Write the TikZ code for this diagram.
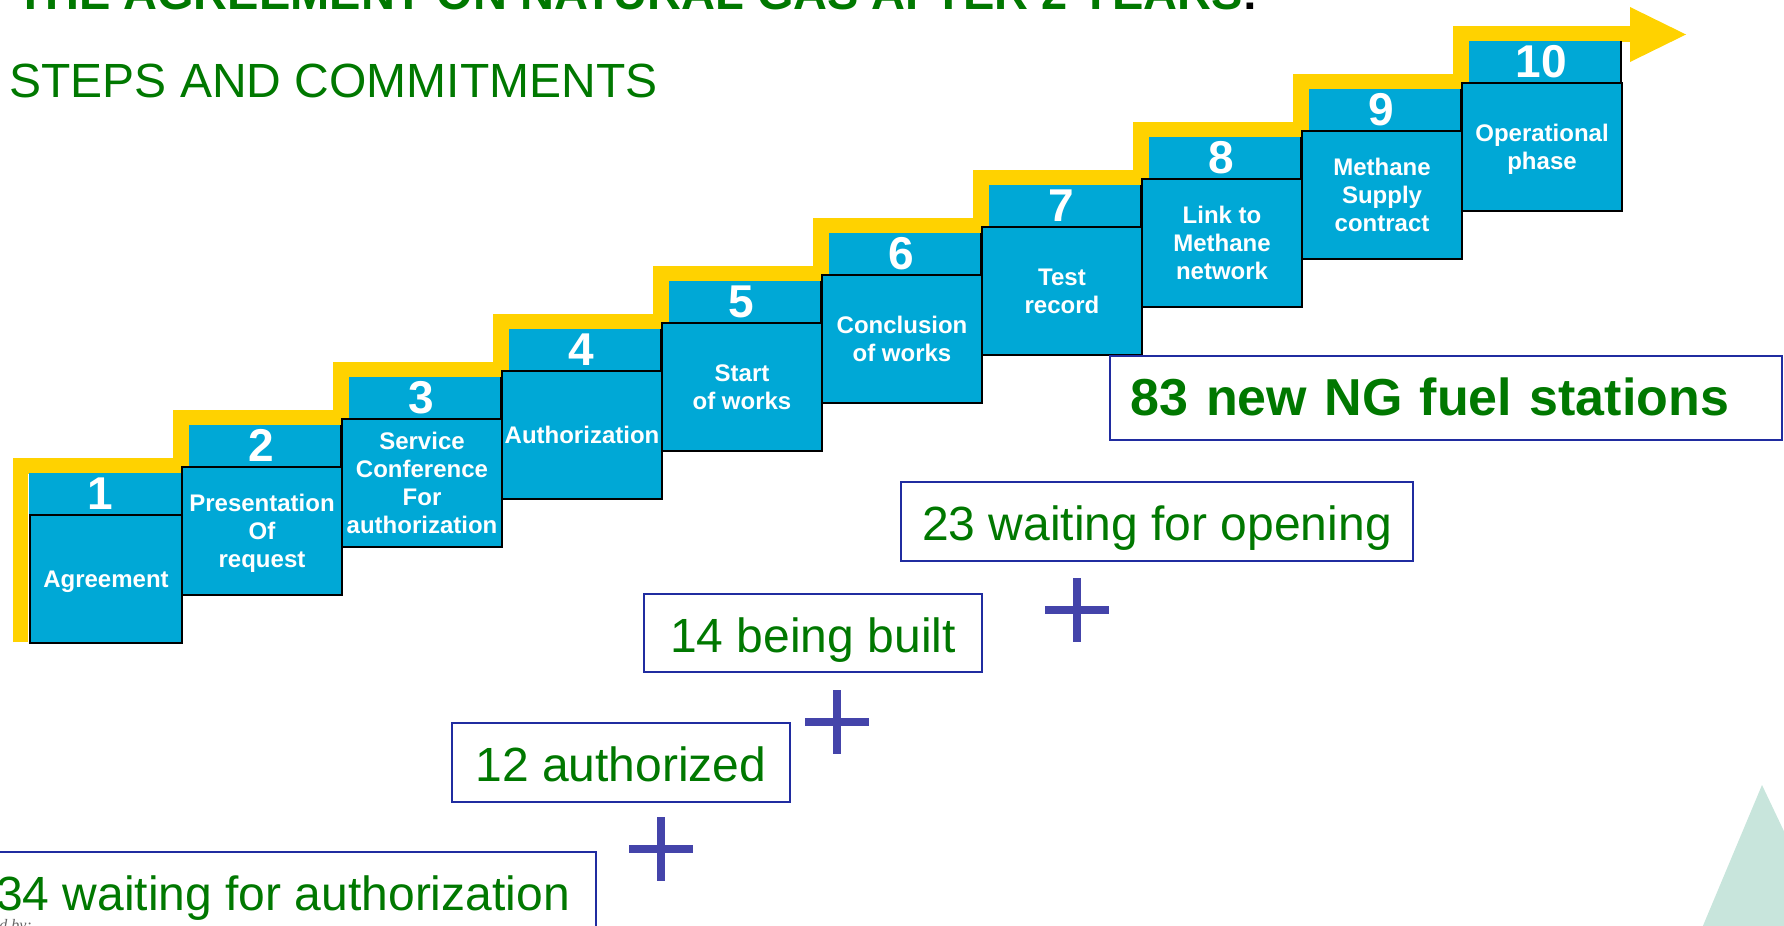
\documentclass[tikz,border=0pt]{standalone}
\usepackage{fontspec}
\setmainfont{Liberation Sans}
\newfontfamily\serifit{Liberation Serif}
\definecolor{stepblue}{RGB}{0,168,214}
\definecolor{stepyellow}{RGB}{255,210,0}
\definecolor{txtgreen}{RGB}{0,120,0}
\definecolor{boxnavy}{RGB}{32,44,160}
\definecolor{plusblue}{RGB}{68,68,170}
\definecolor{mountain}{RGB}{200,229,220}
\begin{document}
\begin{tikzpicture}[x=0.5pt,y=-0.5pt,line join=miter,
  lbl/.style={draw=black,line width=1pt,fill=stepblue,text=white,
    font=\bfseries\fontsize{12}{14}\selectfont,align=center,inner sep=0pt,
    minimum width=80pt,minimum height=64pt,text depth=0pt,anchor=north west},
  num/.style={text=white,font=\bfseries\fontsize{23}{23}\selectfont,inner sep=0pt,anchor=base},
  stripfill/.style={fill=stepblue},
  shadowbox/.style={fill=black!40},
  countbox/.style={draw=boxnavy,line width=0.9pt,fill=white,text=txtgreen,
    font=\fontsize{24}{28}\selectfont,inner sep=0pt,minimum height=39.5pt,
    text height=19pt,text depth=0pt},
  plusmark/.style={draw=plusblue,line width=3.75pt},
  ttl/.style={text=txtgreen,inner sep=0pt,anchor=base west}]
\useasboundingbox (0,0) rectangle (1784,926);
\clip (0,0) rectangle (1784,926);

% background mountain shape
\fill[mountain] (1697,940) -- (1762,785) -- (1800,865) -- (1800,940) -- cycle;

% titles
\node[ttl,font=\bfseries\fontsize{23.5}{28}\selectfont] (title) at (16,10)
  {THE AGREEMENT ON NATURAL GAS AFTER 2 YEARS\textcolor{black}{:}};
\node[ttl,font=\fontsize{24}{28}\selectfont] (subtitle) at (9,97) {STEPS AND COMMITMENTS};

% yellow staircase arrow
\draw[stepyellow,line width=7.75pt] (20.5,642) -- (20.5,466) -- (181,466) -- (181,418)
  -- (341,418) -- (341,370) -- (501,370) -- (501,322) -- (661,322) -- (661,274)
  -- (821,274) -- (821,226) -- (981,226) -- (981,178) -- (1141,178) -- (1141,130)
  -- (1301,130) -- (1301,82) -- (1461,82) -- (1461,34) -- (1632,34);
\fill[stepyellow] (1630,7) -- (1686,34.5) -- (1630,62) -- cycle;

% shadows
\fill[shadowbox] (31,516) rectangle (183,644);
\foreach \L/\T in {181/466,341/418,501/370,661/322,821/274,981/226,1141/178,1301/130,1461/82}
  \fill[shadowbox] (\L+2,\T+2) rectangle (\L+162,\T+130);

% step 1
\fill[stripfill] (29,473) rectangle (181,514);
\node[num] (n1) at (100,509) {1};
\node[lbl,minimum width=76pt] (b1) at (29,514) {Agreement};

% steps 2..10
\foreach \i/\L/\T/\txt in {
  2/181/466/{Presentation\\Of\\request},
  3/341/418/{Service\\Conference\\For\\authorization},
  4/501/370/{Authorization},
  5/661/322/{Start\\of works},
  6/821/274/{Conclusion\\of works},
  7/981/226/{Test\\record},
  8/1141/178/{Link to\\Methane\\network},
  9/1301/130/{Methane\\Supply\\contract},
  10/1461/82/{Operational\\phase}}{
  \fill[stripfill] (\L+8,\T-41) rectangle (\L+160,\T);
  \draw[black,line width=0.6pt] (\L+160,\T-41) -- (\L+160,\T);
  \node[num] (n\i) at (\L+80,\T-5) {\i};
  \node[lbl] (b\i) at (\L,\T) {\txt};
}

% result boxes
\node[countbox,anchor=north west,minimum height=42pt,text width=315pt,inner xsep=10.5pt,
  align=left,text height=18pt,font=\bfseries\fontsize{26}{30}\selectfont] (c83)
  at (1109,355) {83 new NG fuel stations};
\node[countbox,minimum width=256pt] (c23) at (1157,521.5) {23 waiting for opening};
\node[countbox,minimum width=169pt,minimum height=39pt] (c14) at (813,633) {14 being built};
\node[countbox,minimum width=169pt] (c12) at (621,762.5) {12 authorized};
\node[countbox,minimum width=313pt] (c34) at (283,891.5) {34 waiting for authorization};

% plus signs
\foreach \px/\py in {1077/610,837/722,661/849}{
  \draw[plusmark] (\px-32,\py) -- (\px+32,\py);
  \draw[plusmark] (\px,\py-32) -- (\px,\py+32);
}

% footer fragment
\node[inner sep=0pt,anchor=base west,text=black!60,font=\serifit\itshape\fontsize{8}{9}\selectfont] (foot) at (-1,930) {d by:};
\end{tikzpicture}
\end{document}
